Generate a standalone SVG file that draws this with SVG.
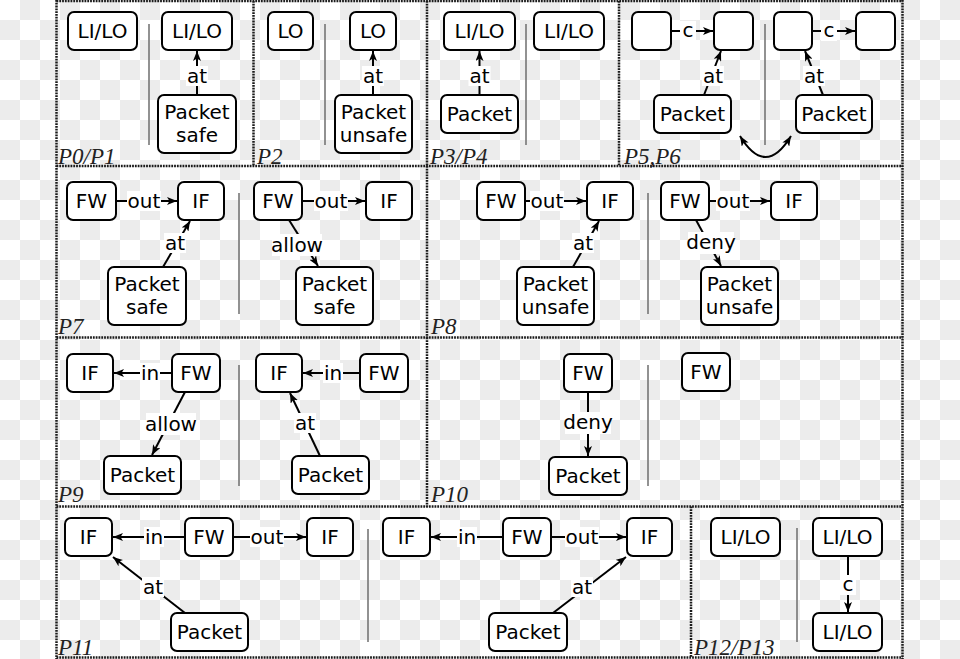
<svg xmlns="http://www.w3.org/2000/svg" width="960" height="659" viewBox="0 0 960 659">
<defs>
<pattern id="checker" x="0" y="0" width="40" height="40" patternUnits="userSpaceOnUse">
<rect width="40" height="40" fill="#ffffff"/>
<rect x="20" y="0" width="20" height="20" fill="#ececec"/>
<rect x="0" y="20" width="20" height="20" fill="#ececec"/>
</pattern>
<marker id="ah" viewBox="0 0 10 8" refX="10" refY="4" markerWidth="10" markerHeight="8" markerUnits="userSpaceOnUse" orient="auto-start-reverse">
<path d="M0,0 L10,4 L0,8 L2.5,4 z" fill="#000"/>
</marker>
</defs>
<style>
.node rect{fill:#fff;stroke:#000;stroke-width:2}
.node text,.lbl text{font-family:'DejaVu Sans',Verdana,sans-serif;font-size:20px;text-anchor:middle;fill:#000}
.edge line,.edge path{stroke:#000;stroke-width:2;fill:none}
.lbl rect{fill:#fff}
.sep{stroke:#6e6e6e;stroke-width:1.5}
.frame{stroke:#1a1a1a;stroke-width:2.5;stroke-dasharray:1.8 1;fill:none}
.pl{font-family:'Liberation Serif','Times New Roman',serif;font-style:italic;font-size:23px;fill:#222}
</style>
<rect width="960" height="659" fill="url(#checker)"/>

<g id="frames">
<path class="frame" d="M56.5,1 H902.5 M56.5,166 H902.5 M56.5,337.5 H902.5 M56.5,506.5 H902.5 M56.5,657.5 H902.5 M56.5,0 V659 M902.5,0 V659 M253.5,1 V166 M427,1 V166 M619,1 V166 M427,166 V337.5 M427,337.5 V506.5 M691,506.5 V657.5"/>
</g>

<g id="separators">
<line class="sep" x1="149" y1="24" x2="149" y2="145"/>
<line class="sep" x1="325" y1="24" x2="325" y2="145"/>
<line class="sep" x1="526" y1="24" x2="526" y2="145"/>
<line class="sep" x1="765" y1="24" x2="765" y2="145"/>
<line class="sep" x1="239" y1="193" x2="239" y2="314"/>
<line class="sep" x1="648" y1="193" x2="648" y2="314"/>
<line class="sep" x1="239" y1="365" x2="239" y2="486"/>
<line class="sep" x1="648" y1="365" x2="648" y2="486"/>
<line class="sep" x1="368" y1="529" x2="368" y2="642"/>
<line class="sep" x1="797" y1="528" x2="797" y2="642"/>
</g>

<g id="panel-labels">
<text class="pl" x="58" y="164">P0/P1</text>
<text class="pl" x="257" y="164">P2</text>
<text class="pl" x="430" y="164">P3/P4</text>
<text class="pl" x="624" y="164">P5,P6</text>
<text class="pl" x="58" y="334">P7</text>
<text class="pl" x="431" y="334">P8</text>
<text class="pl" x="58" y="502">P9</text>
<text class="pl" x="431" y="502">P10</text>
<text class="pl" x="58" y="655">P11</text>
<text class="pl" x="694" y="655">P12/P13</text>
</g>

<g id="connectors">
<!-- P0/P1 -->
<g class="edge"><line x1="197" y1="95" x2="197" y2="51" marker-end="url(#ah)"/></g>
<g class="lbl"><rect x="186" y="66" width="22" height="20"/><text x="197" y="83">at</text></g>
<!-- P2 -->
<g class="edge"><line x1="373" y1="95" x2="373" y2="51" marker-end="url(#ah)"/></g>
<g class="lbl"><rect x="362" y="66" width="22" height="20"/><text x="373" y="83">at</text></g>
<!-- P3/P4 -->
<g class="edge"><line x1="479.5" y1="95" x2="479.5" y2="51" marker-end="url(#ah)"/></g>
<g class="lbl"><rect x="468.5" y="66" width="22" height="20"/><text x="479.5" y="83">at</text></g>
<!-- P5,P6 -->
<g class="edge"><line x1="671" y1="31" x2="713" y2="31" marker-end="url(#ah)"/></g>
<g class="lbl"><rect x="680" y="21" width="16" height="20"/><text x="688" y="37">c</text></g>
<g class="edge"><line x1="704" y1="95" x2="721" y2="51" marker-end="url(#ah)"/></g>
<g class="lbl"><rect x="702" y="66" width="22" height="20"/><text x="713" y="83">at</text></g>
<g class="edge"><line x1="812" y1="31" x2="855" y2="31" marker-end="url(#ah)"/></g>
<g class="lbl"><rect x="821" y="21" width="16" height="20"/><text x="829" y="37">c</text></g>
<g class="edge"><line x1="823" y1="95" x2="805" y2="51" marker-end="url(#ah)"/></g>
<g class="lbl"><rect x="803" y="66" width="22" height="20"/><text x="814" y="83">at</text></g>
<g class="edge"><path d="M740,136 Q765.5,178 791,136" marker-start="url(#ah)" marker-end="url(#ah)"/></g>
<!-- P7 -->
<g class="edge"><line x1="116" y1="201" x2="177" y2="201" marker-end="url(#ah)"/></g>
<g class="lbl"><rect x="127" y="191" width="34" height="20"/><text x="144" y="207.5">out</text></g>
<g class="edge"><line x1="163" y1="267" x2="190" y2="221" marker-end="url(#ah)"/></g>
<g class="lbl"><rect x="164" y="233" width="22" height="20"/><text x="175" y="250">at</text></g>
<g class="edge"><line x1="302" y1="201" x2="365" y2="201" marker-end="url(#ah)"/></g>
<g class="lbl"><rect x="314" y="191" width="34" height="20"/><text x="331" y="207.5">out</text></g>
<g class="edge"><line x1="289" y1="220" x2="318" y2="266" marker-end="url(#ah)"/></g>
<g class="lbl"><rect x="272" y="234" width="50" height="22"/><text x="297" y="252">allow</text></g>
<!-- P8 -->
<g class="edge"><line x1="525" y1="201" x2="586" y2="201" marker-end="url(#ah)"/></g>
<g class="lbl"><rect x="530" y="191" width="34" height="20"/><text x="547" y="207.5">out</text></g>
<g class="edge"><line x1="573" y1="267" x2="599" y2="221" marker-end="url(#ah)"/></g>
<g class="lbl"><rect x="572" y="233" width="22" height="20"/><text x="583" y="250">at</text></g>
<g class="edge"><line x1="709" y1="201" x2="770" y2="201" marker-end="url(#ah)"/></g>
<g class="lbl"><rect x="716" y="191" width="34" height="20"/><text x="733" y="207.5">out</text></g>
<g class="edge"><line x1="696" y1="220" x2="721" y2="266" marker-end="url(#ah)"/></g>
<g class="lbl"><rect x="688" y="232" width="46" height="22"/><text x="711" y="249">deny</text></g>
<!-- P9 -->
<g class="edge"><line x1="172" y1="373" x2="114" y2="373" marker-end="url(#ah)"/></g>
<g class="lbl"><rect x="140" y="363" width="20" height="20"/><text x="150" y="379.5">in</text></g>
<g class="edge"><line x1="185" y1="392" x2="152" y2="455" marker-end="url(#ah)"/></g>
<g class="lbl"><rect x="146" y="413" width="50" height="22"/><text x="171" y="431">allow</text></g>
<g class="edge"><line x1="360" y1="373" x2="303" y2="373" marker-end="url(#ah)"/></g>
<g class="lbl"><rect x="323" y="363" width="20" height="20"/><text x="333" y="379.5">in</text></g>
<g class="edge"><line x1="320" y1="456" x2="290" y2="393" marker-end="url(#ah)"/></g>
<g class="lbl"><rect x="294" y="413" width="22" height="20"/><text x="305" y="430">at</text></g>
<!-- P10 -->
<g class="edge"><line x1="588" y1="392" x2="588" y2="456" marker-end="url(#ah)"/></g>
<g class="lbl"><rect x="565" y="412" width="46" height="22"/><text x="588" y="429">deny</text></g>
<!-- P11 -->
<g class="edge"><line x1="185" y1="537" x2="113" y2="537" marker-end="url(#ah)"/></g>
<g class="lbl"><rect x="144" y="527" width="20" height="20"/><text x="154" y="543.5">in</text></g>
<g class="edge"><line x1="233" y1="537" x2="306" y2="537" marker-end="url(#ah)"/></g>
<g class="lbl"><rect x="250" y="527" width="34" height="20"/><text x="267" y="543.5">out</text></g>
<g class="edge"><line x1="185" y1="613" x2="113" y2="557" marker-end="url(#ah)"/></g>
<g class="lbl"><rect x="142" y="577" width="22" height="20"/><text x="153" y="594">at</text></g>
<g class="edge"><line x1="503" y1="537" x2="431" y2="537" marker-end="url(#ah)"/></g>
<g class="lbl"><rect x="457" y="527" width="20" height="20"/><text x="467" y="543.5">in</text></g>
<g class="edge"><line x1="551" y1="537" x2="626" y2="537" marker-end="url(#ah)"/></g>
<g class="lbl"><rect x="565" y="527" width="34" height="20"/><text x="582" y="543.5">out</text></g>
<g class="edge"><line x1="553" y1="613" x2="626" y2="557" marker-end="url(#ah)"/></g>
<g class="lbl"><rect x="571" y="577" width="22" height="20"/><text x="582" y="594">at</text></g>
<!-- P12/P13 -->
<g class="edge"><line x1="848" y1="556" x2="848" y2="612" marker-end="url(#ah)"/></g>
<g class="lbl"><rect x="840" y="575" width="16" height="20"/><text x="848" y="591">c</text></g>
</g>

<!-- P0/P1 -->
<g id="p01-lilo-left" class="node"><rect x="68" y="12" width="69" height="38" rx="6"/><text x="102.5" y="38">LI/LO</text></g>
<g id="p01-lilo-right" class="node"><rect x="162" y="12" width="70" height="38" rx="6"/><text x="197" y="38">LI/LO</text></g>
<g id="p01-packet" class="node"><rect x="158" y="95" width="78" height="58" rx="6"/><text x="197" y="119">Packet</text><text x="197" y="142">safe</text></g>
<!-- P2 -->
<g id="p2-lo-left" class="node"><rect x="268" y="12" width="45" height="38" rx="6"/><text x="290.5" y="38">LO</text></g>
<g id="p2-lo-right" class="node"><rect x="350" y="12" width="46" height="38" rx="6"/><text x="373" y="38">LO</text></g>
<g id="p2-packet" class="node"><rect x="335" y="95" width="77" height="58" rx="6"/><text x="373.5" y="119">Packet</text><text x="373.5" y="142">unsafe</text></g>
<!-- P3/P4 -->
<g id="p34-lilo-left" class="node"><rect x="444" y="12" width="71" height="38" rx="6"/><text x="479.5" y="38">LI/LO</text></g>
<g id="p34-packet" class="node"><rect x="441" y="95" width="77" height="38" rx="6"/><text x="479.5" y="121">Packet</text></g>
<g id="p34-lilo-right" class="node"><rect x="534" y="12" width="70" height="38" rx="6"/><text x="569" y="38">LI/LO</text></g>
<!-- P5,P6 -->
<g id="p56-a1" class="node"><rect x="632" y="12" width="39" height="38" rx="6"/></g>
<g id="p56-b1" class="node"><rect x="714" y="12" width="39" height="38" rx="6"/></g>
<g id="p56-packet1" class="node"><rect x="654" y="95" width="77" height="38" rx="6"/><text x="692.5" y="121">Packet</text></g>
<g id="p56-a2" class="node"><rect x="774" y="12" width="38" height="38" rx="6"/></g>
<g id="p56-b2" class="node"><rect x="856" y="12" width="39" height="38" rx="6"/></g>
<g id="p56-packet2" class="node"><rect x="796" y="95" width="76" height="38" rx="6"/><text x="834" y="121">Packet</text></g>
<!-- P7 -->
<g id="p7-fw1" class="node"><rect x="67" y="182" width="49" height="38" rx="6"/><text x="91.5" y="208">FW</text></g>
<g id="p7-if1" class="node"><rect x="178" y="182" width="46" height="38" rx="6"/><text x="201" y="208">IF</text></g>
<g id="p7-packet1" class="node"><rect x="108" y="267" width="78" height="58" rx="6"/><text x="147" y="291">Packet</text><text x="147" y="314">safe</text></g>
<g id="p7-fw2" class="node"><rect x="254" y="182" width="48" height="38" rx="6"/><text x="278" y="208">FW</text></g>
<g id="p7-if2" class="node"><rect x="366" y="182" width="46" height="38" rx="6"/><text x="389" y="208">IF</text></g>
<g id="p7-packet2" class="node"><rect x="296" y="267" width="77" height="58" rx="6"/><text x="334.5" y="291">Packet</text><text x="334.5" y="314">safe</text></g>
<!-- P8 -->
<g id="p8-fw1" class="node"><rect x="477" y="182" width="48" height="38" rx="6"/><text x="501" y="208">FW</text></g>
<g id="p8-if1" class="node"><rect x="587" y="182" width="46" height="38" rx="6"/><text x="610" y="208">IF</text></g>
<g id="p8-packet1" class="node"><rect x="517" y="267" width="77" height="58" rx="6"/><text x="555.5" y="291">Packet</text><text x="555.5" y="314">unsafe</text></g>
<g id="p8-fw2" class="node"><rect x="661" y="182" width="48" height="38" rx="6"/><text x="685" y="208">FW</text></g>
<g id="p8-if2" class="node"><rect x="771" y="182" width="46" height="38" rx="6"/><text x="794" y="208">IF</text></g>
<g id="p8-packet2" class="node"><rect x="701" y="267" width="77" height="58" rx="6"/><text x="739.5" y="291">Packet</text><text x="739.5" y="314">unsafe</text></g>
<!-- P9 -->
<g id="p9-if1" class="node"><rect x="67" y="354" width="46" height="38" rx="6"/><text x="90" y="380">IF</text></g>
<g id="p9-fw1" class="node"><rect x="172" y="354" width="48" height="38" rx="6"/><text x="196" y="380">FW</text></g>
<g id="p9-packet1" class="node"><rect x="104" y="456" width="77" height="38" rx="6"/><text x="142.5" y="482">Packet</text></g>
<g id="p9-if2" class="node"><rect x="256" y="354" width="46" height="38" rx="6"/><text x="279" y="380">IF</text></g>
<g id="p9-fw2" class="node"><rect x="360" y="354" width="48" height="38" rx="6"/><text x="384" y="380">FW</text></g>
<g id="p9-packet2" class="node"><rect x="292" y="456" width="77" height="38" rx="6"/><text x="330.5" y="482">Packet</text></g>
<!-- P10 -->
<g id="p10-fw1" class="node"><rect x="564" y="354" width="48" height="38" rx="6"/><text x="588" y="380">FW</text></g>
<g id="p10-packet" class="node"><rect x="549" y="457" width="78" height="38" rx="6"/><text x="588" y="483">Packet</text></g>
<g id="p10-fw2" class="node"><rect x="682" y="353" width="48" height="38" rx="6"/><text x="706" y="379">FW</text></g>
<!-- P11 -->
<g id="p11-if1" class="node"><rect x="65" y="518" width="47" height="38" rx="6"/><text x="88.5" y="544">IF</text></g>
<g id="p11-fw1" class="node"><rect x="185" y="518" width="48" height="38" rx="6"/><text x="209" y="544">FW</text></g>
<g id="p11-if2" class="node"><rect x="307" y="518" width="46" height="38" rx="6"/><text x="330" y="544">IF</text></g>
<g id="p11-packet1" class="node"><rect x="171" y="613" width="77" height="38" rx="6"/><text x="209.5" y="639">Packet</text></g>
<g id="p11-if3" class="node"><rect x="383" y="518" width="47" height="38" rx="6"/><text x="406.5" y="544">IF</text></g>
<g id="p11-fw2" class="node"><rect x="503" y="518" width="48" height="38" rx="6"/><text x="527" y="544">FW</text></g>
<g id="p11-if4" class="node"><rect x="627" y="518" width="45" height="38" rx="6"/><text x="649.5" y="544">IF</text></g>
<g id="p11-packet2" class="node"><rect x="489" y="613" width="78" height="38" rx="6"/><text x="528" y="639">Packet</text></g>
<!-- P12/P13 -->
<g id="p1213-lilo-left" class="node"><rect x="711" y="518" width="69" height="38" rx="6"/><text x="745.5" y="544">LI/LO</text></g>
<g id="p1213-lilo-top" class="node"><rect x="813" y="518" width="69" height="38" rx="6"/><text x="847.5" y="544">LI/LO</text></g>
<g id="p1213-lilo-bottom" class="node"><rect x="813" y="613" width="69" height="38" rx="6"/><text x="847.5" y="639">LI/LO</text></g>
</svg>
